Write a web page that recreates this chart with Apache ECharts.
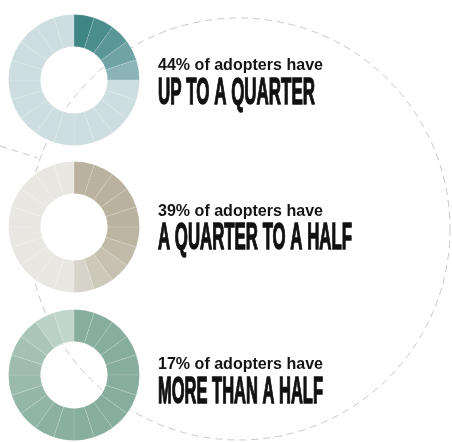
<!DOCTYPE html>
<html>
<head>
<meta charset="utf-8">
<script src="https://cdn.jsdelivr.net/npm/echarts@6/dist/echarts.min.js"></script>
<style>
  html, body { margin: 0; padding: 0; background: #fff; }
  #chart { width: 452px; height: 442px; }
</style>
</head>
<body>
<div id="chart"></div>
<script>
// every ring is 20 equal slices of 5% each
const slices = [5, 5, 5, 5, 5, 5, 5, 5, 5, 5, 5, 5, 5, 5, 5, 5, 5, 5, 5, 5]
const adopterShares = ['44%', '39%', '17%']
const groupNames = ['UP TO A QUARTER', 'A QUARTER TO A HALF', 'MORE THAN A HALF']

// slice colours, clockwise from 12 o'clock
const ringColors = [
  ['#3f8586', '#4b8c8c', '#5c9797', '#6fa3a4', '#8ab4b7',
   '#cddde0', '#cddde0', '#cddde0', '#cddde0', '#cddde0',
   '#cddde0', '#cddde0', '#cddde0', '#cddde0', '#cddde0',
   '#cddde0', '#cddde0', '#cddde0', '#cddde0', '#cddde0'],
  ['#b9b29e', '#b9b29e', '#b9b29e', '#b9b29e', '#b9b29e',
   '#bcb5a2', '#c0baa8', '#c6c1b1', '#ccc8ba', '#d6d3c8',
   '#e9e7e2', '#e9e7e2', '#e9e7e2', '#e9e7e2', '#e9e7e2',
   '#e9e7e2', '#e9e7e2', '#e9e7e2', '#e9e7e2', '#e9e7e2'],
  ['#86ad9d', '#86ad9d', '#86ad9d', '#86ad9d', '#86ad9d',
   '#86ad9d', '#86ad9d', '#86ad9d', '#86ad9d', '#87ae9e',
   '#89af9f', '#8cb1a2', '#90b4a5', '#95b7a9', '#99baad',
   '#9ebdb0', '#a3c1b4', '#aac5b9', '#bad1c7', '#c0d5cc']
]
const ringCentersY = [80, 227, 375]
const textX = 158
const subY = [65.5, 210.9, 364.5]
const headY = [94.5, 239.5, 392.8]
const headWidths = [157, 194, 165]

const measure = document.createElement('canvas').getContext('2d')
const fit = (text, font, width) => {
  measure.font = font
  return width / measure.measureText(text).width
}

const subFont = 'bold 17px "Liberation Sans", Arial, sans-serif'
const headFont = 'bold 36px "Liberation Sans", Arial, sans-serif'

const series = ringColors.map((colors, i) => ({
  type: 'pie',
  center: [74, ringCentersY[i]],
  radius: [33.5, 65.5],
  startAngle: 90,
  clockwise: true,
  silent: true,
  label: { show: false },
  labelLine: { show: false },
  emphasis: { disabled: true },
  itemStyle: {
    borderColor: 'rgba(255,255,255,0.35)',
    borderWidth: 0.6,
    borderType: 'dashed'
  },
  data: slices.map((v, j) => ({ value: v, itemStyle: { color: colors[j] } }))
}))

const texts = []
adopterShares.forEach((share, i) => {
  const sub = share + ' of adopters have'
  texts.push({
    type: 'text', x: textX, y: subY[i],
    scaleX: fit(sub, subFont, 165),
    style: { text: sub, font: subFont, fill: '#141414', verticalAlign: 'middle', align: 'left' }
  })
  texts.push({
    type: 'text', x: textX, y: headY[i],
    scaleX: fit(groupNames[i], headFont, headWidths[i]),
    style: {
      text: groupNames[i], font: headFont, fill: '#111', stroke: '#111', lineWidth: 1.4,
      verticalAlign: 'middle', align: 'left'
    }
  })
})

const chart = echarts.init(document.getElementById('chart'))
chart.setOption({
  animation: false,
  backgroundColor: '#fff',
  graphic: [
    {
      type: 'circle', z: -10, silent: true,
      shape: { cx: 239, cy: 229, r: 211 },
      style: { fill: 'none', stroke: '#c9c9c9', lineWidth: 1, lineDash: [7, 5] }
    },
    {
      type: 'line', z: -10, silent: true,
      shape: { x1: 0, y1: 146, x2: 38, y2: 158 },
      style: { stroke: '#c9c9c9', lineWidth: 1, lineDash: [7, 5] }
    },
    ...texts
  ],
  series
})
</script>
</body>
</html>
